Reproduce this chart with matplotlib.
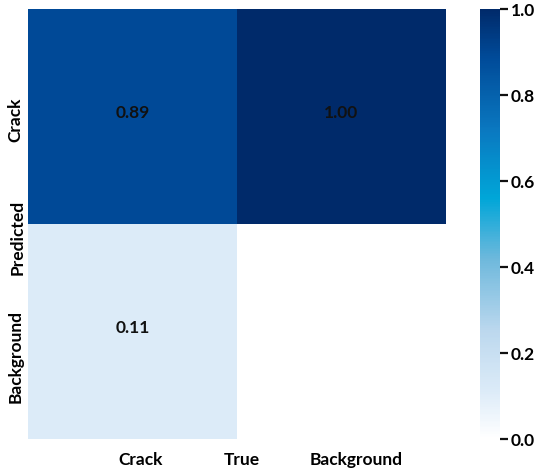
import numpy as np
import matplotlib
matplotlib.use("Agg")
import matplotlib.pyplot as plt
from matplotlib.colors import LinearSegmentedColormap

# data
labels = ["Crack", "Background"]
values = np.array([[0.89, 1.00],
                   [0.11, 0.00]])
cbar_ticks = [0, 0.2, 0.4, 0.6, 0.8, 1.0]

plt.rcParams['font.family'] = ['Lato', 'DejaVu Sans']
plt.rcParams['font.weight'] = 'bold'

cmap = LinearSegmentedColormap.from_list("cm", [
    (0.00, "#ffffff"),
    (0.11, "#dcebf8"),
    (0.25, "#bcd8ee"),
    (0.42, "#6db8dc"),
    (0.56, "#00a6d8"),
    (0.72, "#0a78c0"),
    (0.89, "#004a98"),
    (1.00, "#002a6a"),
])

fig = plt.figure(figsize=(5.5, 4.77), dpi=100)
ax = fig.add_axes([28/550, 37/477, 418/550, 430/477])
cax = fig.add_axes([480/550, 37/477, 20/550, 430/477])

im = ax.imshow(values, cmap=cmap, vmin=0, vmax=1, aspect='auto')
for i in range(2):
    for j in range(2):
        if values[i, j] > 0:
            ax.text(j, i - 0.02, f"{values[i, j]:.2f}", ha='center', va='center',
                    fontsize=12.5, fontweight='bold', color='#111111')

# tick labels sit a little off the cell centres in the original
ax.set_xticks([0.04, 1.07])
ax.set_xticklabels(labels, fontsize=12.5, fontweight='bold')
ax.set_yticks([0.01, 1.11])
ax.set_yticklabels(labels, fontsize=12.5, fontweight='bold', rotation=90, va='center')
ax.set_xlim(-0.5, 1.5)
ax.set_ylim(1.5, -0.5)
ax.tick_params(axis='x', length=0, pad=9)
ax.tick_params(axis='y', length=0, pad=3)
for s in ax.spines.values():
    s.set_visible(False)
ax.text(0.512, -0.047, "True", transform=ax.transAxes, ha='center', va='center',
        fontsize=12.5, fontweight='bold')
ax.text(-0.026, 0.47, "Predicted", transform=ax.transAxes, ha='center', va='center',
        rotation=90, fontsize=12.5, fontweight='bold')

cb = fig.colorbar(im, cax=cax)
cb.outline.set_visible(False)
cb.set_ticks(cbar_ticks)
cb.set_ticklabels([f"{t:.1f}" for t in cbar_ticks])
cax.tick_params(length=6, width=1.6, color='#111111', pad=2, labelsize=12.5)

fig.savefig("out.png", dpi=100)
